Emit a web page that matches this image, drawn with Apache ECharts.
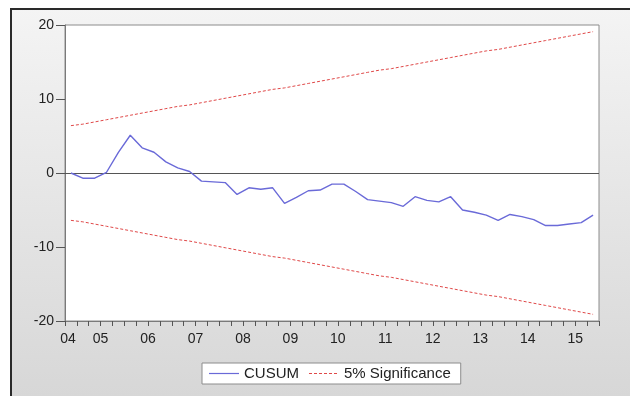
<!DOCTYPE html>
<html>
<head>
<meta charset="utf-8">
<script src="https://cdn.jsdelivr.net/npm/echarts@6/dist/echarts.min.js"></script>
<style>html,body{margin:0;padding:0;background:#fff}#c{width:630px;height:396px}</style>
</head>
<body>
<div id="c"></div>
<script>
// Quarterly observations 2004Q2 .. 2015Q2
const quarters = [];
for (let y = 2004; y <= 2015; y++) {
  for (let q = 1; q <= 4; q++) {
    if ((y === 2004 && q < 2) || (y === 2015 && q > 2)) continue;
    quarters.push(y + 'Q' + q);
  }
}
const cusum = [0, -0.7, -0.7, 0.1, 2.8, 5.1, 3.4, 2.8, 1.5, 0.7,
  0.2, -1.1, -1.2, -1.3, -2.9, -2.0, -2.2, -2.0, -4.1, -3.3,
  -2.4, -2.3, -1.5, -1.5, -2.5, -3.6, -3.8, -4.0, -4.5, -3.2,
  -3.7, -3.9, -3.2, -5.0, -5.3, -5.7, -6.4, -5.6, -5.9, -6.3,
  -7.1, -7.1, -6.9, -6.7, -5.7];
const upper = [6.4, 6.6, 6.9, 7.2, 7.5, 7.8, 8.1, 8.4, 8.7, 9.0,
  9.2, 9.5, 9.8, 10.1, 10.4, 10.7, 11.0, 11.3, 11.5, 11.8,
  12.1, 12.4, 12.7, 13.0, 13.3, 13.6, 13.9, 14.1, 14.4, 14.7,
  15.0, 15.3, 15.6, 15.9, 16.2, 16.5, 16.7, 17.0, 17.3, 17.6,
  17.9, 18.2, 18.5, 18.8, 19.1];
const lower = [-6.4, -6.6, -6.9, -7.2, -7.5, -7.8, -8.1, -8.4, -8.7, -9.0,
  -9.2, -9.5, -9.8, -10.1, -10.4, -10.7, -11.0, -11.3, -11.5, -11.8,
  -12.1, -12.4, -12.7, -13.0, -13.3, -13.6, -13.9, -14.1, -14.4, -14.7,
  -15.0, -15.3, -15.6, -15.9, -16.2, -16.5, -16.7, -17.0, -17.3, -17.6,
  -17.9, -18.2, -18.5, -18.8, -19.1];
const yTicks = [-20, -10, 0, 10, 20];

const font = 'Arial, "Liberation Sans", sans-serif';
const blue = '#6a6ad8';
const red = '#e04848';
// legend icons: thin line (solid / dashed); leading moveTos fix the icon box
const solidIcon = 'path://M0,0M30,14M0,6.4h30v1.2h-30z';
let dashIcon = 'path://M0,0M30,14';
for (let x = 0; x < 30; x += 5) dashIcon += 'M' + x + ',6.5h3v1h-3z';

const chart = echarts.init(document.getElementById('c'), null, {renderer: 'canvas'});
const redDash = {color: red, width: 1, type: [3, 2]};
chart.setOption({
  animation: false,
  backgroundColor: '#ffffff',
  graphic: [{
    type: 'rect', z: -10, silent: true,
    shape: {x: 11, y: 9, width: 640, height: 400},
    style: {
      fill: new echarts.graphic.LinearGradient(0, 0, 0, 1, [
        {offset: 0, color: '#f4f4f4'}, {offset: 1, color: '#d6d6d6'}]),
      stroke: '#2a2a2a', lineWidth: 2
    }
  }],
  grid: {left: 65, right: 31, top: 25, bottom: 75, show: true,
    backgroundColor: '#ffffff', borderColor: '#8c8c8c', borderWidth: 1, containLabel: false},
  legend: {
    left: 202, top: 363, orient: 'horizontal',
    backgroundColor: '#ffffff', borderColor: '#8c8c8c', borderWidth: 1,
    padding: [3, 10, 3, 7], itemWidth: 30, itemHeight: 14, itemGap: 10,
    textStyle: {fontFamily: font, fontSize: 15, color: '#222'},
    data: [{name: 'CUSUM', icon: solidIcon}, {name: '5% Significance', icon: dashIcon}]
  },
  xAxis: {
    type: 'category', data: quarters, boundaryGap: true,
    axisLine: {onZero: false, lineStyle: {color: '#7a7a7a', width: 1}},
    axisTick: {show: true, interval: 0, length: 5, lineStyle: {color: '#555'}},
    splitLine: {show: false},
    axisLabel: {
      interval: 0, margin: 11, fontFamily: font, fontSize: 14, color: '#222',
      formatter: function (v, i) {
        if (i === 0) return '{f|' + v.slice(2, 4) + '}';
        if (v.slice(4) === 'Q1') return '{y|' + v.slice(2, 4) + '}';
        return '';
      },
      rich: {
        f: {fontFamily: font, fontSize: 14, color: '#222', padding: [0, 6, 0, 0]},
        y: {fontFamily: font, fontSize: 14, color: '#222', padding: [0, 12, 0, 0]}
      }
    }
  },
  yAxis: {
    type: 'value', min: yTicks[0], max: yTicks[yTicks.length - 1], interval: 10,
    axisLine: {show: true, lineStyle: {color: '#7a7a7a'}},
    axisTick: {show: true, length: 9, lineStyle: {color: '#555'}},
    splitLine: {show: false},
    axisLabel: {margin: 11, fontFamily: font, fontSize: 14, color: '#222'}
  },
  series: [{
    name: 'CUSUM', type: 'line', data: cusum, symbol: 'none', z: 5,
    lineStyle: {color: blue, width: 1.4}, itemStyle: {color: blue},
    markLine: {silent: true, symbol: 'none', label: {show: false},
      lineStyle: {color: '#555', width: 1.2, type: 'solid'},
      data: [{yAxis: 0}]}
  }, {
    name: '5% Significance', type: 'line', data: upper, symbol: 'none',
    lineStyle: redDash, itemStyle: {color: red}
  }, {
    name: '5% Significance', type: 'line', data: lower, symbol: 'none',
    lineStyle: redDash, itemStyle: {color: red}
  }]
});
</script>
</body>
</html>
